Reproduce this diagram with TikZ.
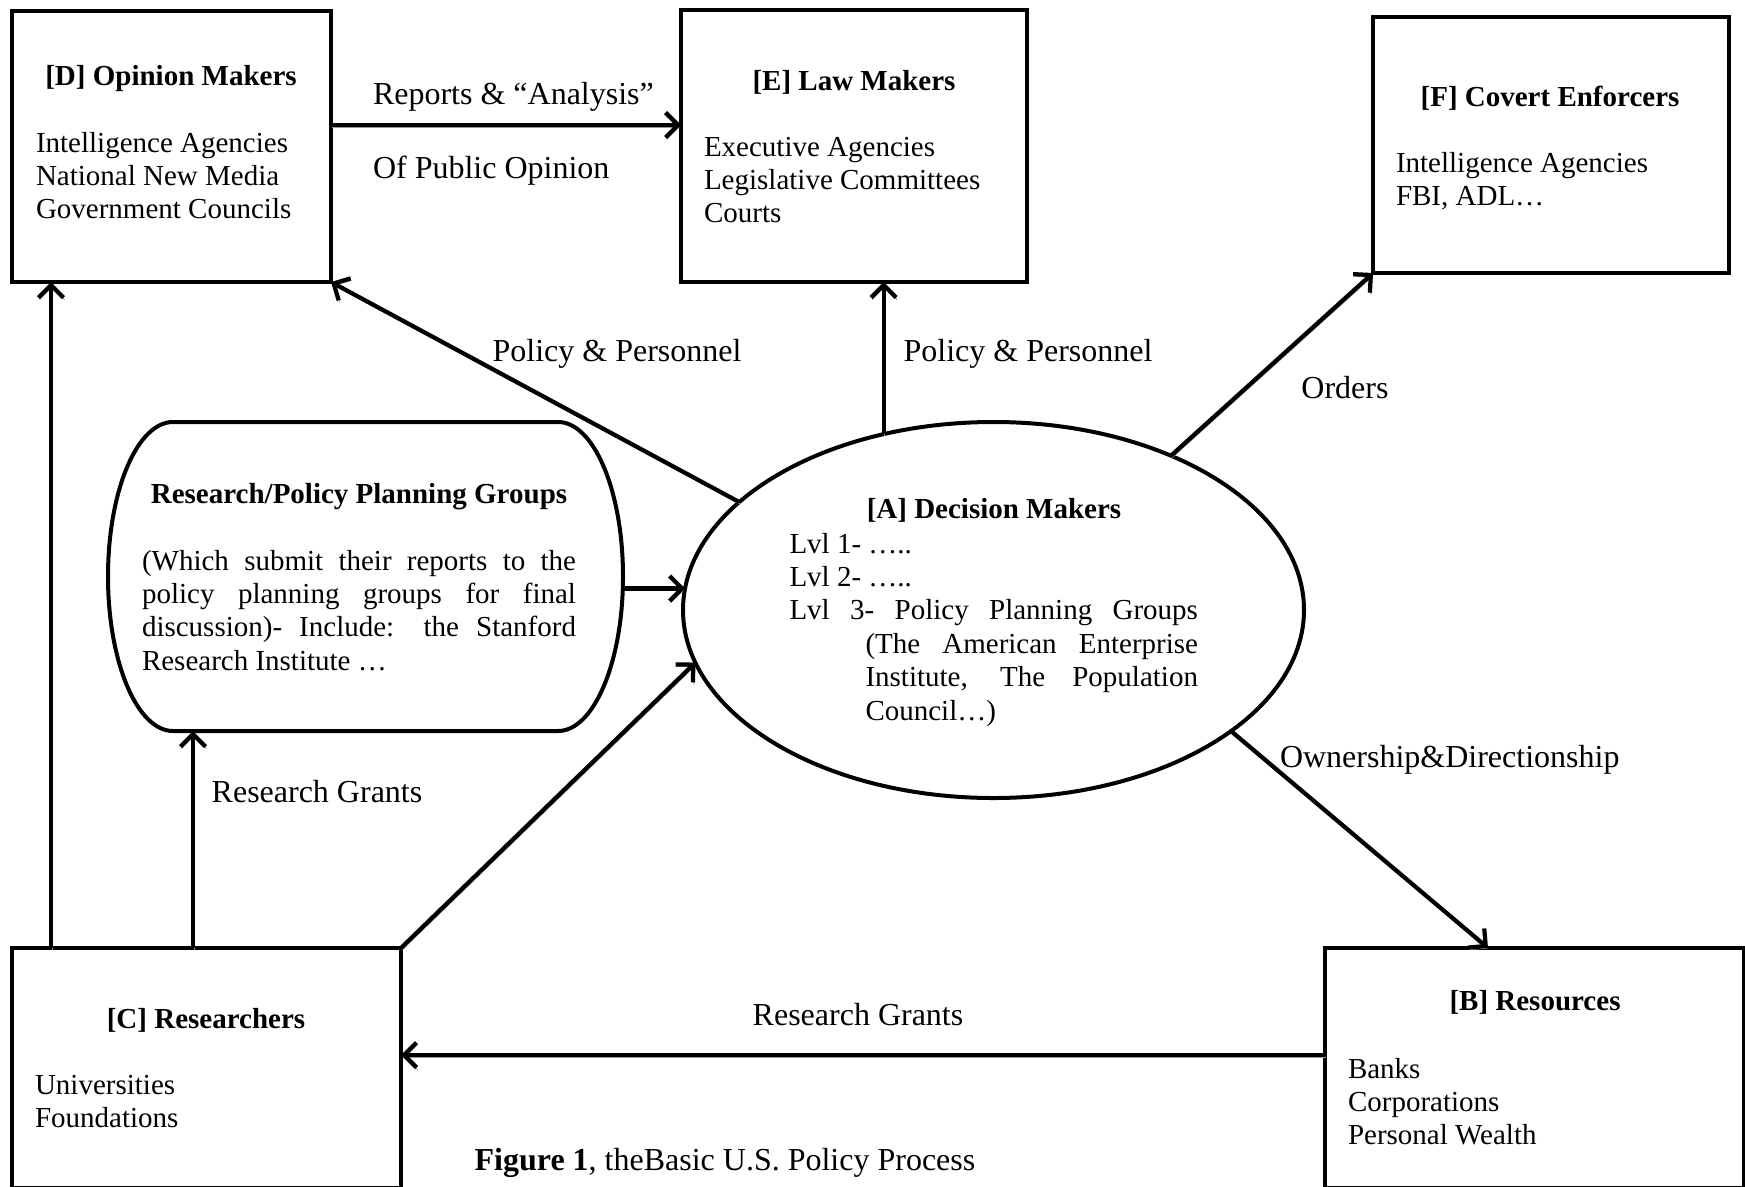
\documentclass[tikz,border=0pt]{standalone}
\usepackage{fontspec}
\setmainfont{Liberation Serif}
\usetikzlibrary{shapes.geometric,arrows.meta}

\begin{document}
\begin{tikzpicture}[x=0.4pt,y=-0.4pt,
  every node/.style={font=\fontsize{11.6}{13.35}\selectfont, inner sep=0pt, outer sep=0pt},
  box/.style 2 args={draw, line width=1.7pt, minimum width=#1*0.4pt, minimum height=#2*0.4pt},
  body/.style={anchor=north west, align=left},
  title/.style={anchor=base, font=\fontsize{11.6}{13.35}\selectfont\bfseries},
  lbl/.style={anchor=base, font=\fontsize{12.8}{14.7}\selectfont},
  arr/.style={->, line width=1.7pt, preaction={draw=black!40, transform canvas={shift={(0.4pt,-0.8pt)}}}},
  >={Straight Barb[length=5pt,width=10pt]}]

  \useasboundingbox (0,0) rectangle (1745,1186);

  % boxes
  \node[box={319}{271}] (D) at (171.5,146.5) {};
  \node[box={346}{272}] (E) at (854,146) {};
  \node[box={356}{256}] (F) at (1551,145) {};
  \node[box={389}{240}] (C) at (206.5,1068) {};
  \node[box={419}{240}] (B) at (1534.5,1068) {};

  \node[draw, ellipse, line width=1.6pt, minimum width=248.4pt, minimum height=150.4pt] (A) at (993.5,610) {};

  \node[minimum width=206pt, minimum height=123.6pt] (RG) at (365.5,576.5) {};
  \draw[line width=1.6pt] (173,422) -- (558,422)
    .. controls (593.9,422) and (623,491.2) .. (623,576.5)
    .. controls (623,661.8) and (593.9,731) .. (558,731) -- (173,731)
    .. controls (137.1,731) and (108,661.8) .. (108,576.5)
    .. controls (108,491.2) and (137.1,422) .. cycle;

  % texts
  \node[title] (Dt) at (171,85) {[D] Opinion Makers};
  \node[body] (Db) at (36,132) {Intelligence Agencies\\National New Media\\Government Councils};

  \node[title] (Et) at (854,90) {[E] Law Makers};
  \node[body] (Eb) at (704,137) {Executive Agencies\\Legislative Committees\\Courts};

  \node[title] (Ft) at (1550,106) {[F] Covert Enforcers};
  \node[body] (Fb) at (1396,152) {Intelligence Agencies\\FBI, ADL…};

  \node[title] (RGt) at (359,503) {Research/Policy Planning Groups};
  \node[anchor=north west, text width=173.6pt, align=justify] (RGb) at (142,550)
    {\parindent=0pt (Which submit their reports to the\linebreak policy planning groups for final\linebreak discussion)- Include: the Stanford\linebreak Research Institute …};

  \node[title] (At) at (994,518) {[A] Decision Makers};
  \node[anchor=north west, text width=163.4pt, align=justify] (Ab) at (789.5,533)
    {\parindent=0pt Lvl 1- …..\par Lvl 2- …..\par Lvl 3- Policy Planning Groups\linebreak
     \hspace*{30.4pt}\parbox[t]{133pt}{(The American Enterprise\linebreak Institute, The Population\linebreak Council…)}};

  \node[title] (Ct) at (206,1028) {[C] Researchers};
  \node[body] (Cb) at (35,1075) {Universities\\Foundations};

  \node[title] (Bt) at (1535,1010) {[B] Resources};
  \node[body] (Bb) at (1348,1058) {Banks\\Corporations\\Personal Wealth};

  % labels
  \node[lbl, anchor=base west] (l1) at (373,104) {Reports \& “Analysis”};
  \node[lbl, anchor=base west] (l2) at (373,178) {Of Public Opinion};
  \node[lbl] (l3) at (617,361) {Policy \& Personnel};
  \node[lbl] (l4) at (1028,361) {Policy \& Personnel};
  \node[lbl] (l5) at (1345,398) {Orders};
  \node[lbl, anchor=base west] (l6) at (1280,767) {Ownership\&Directionship};
  \node[lbl] (l7) at (858,1025) {Research Grants};
  \node[lbl] (l8) at (317,802) {Research Grants};
  \node[lbl] (cap) at (725,1170) {\textbf{Figure 1}, theBasic U.S. Policy Process};

  % connectors
  \coordinate (y1) at (0,125);
  \coordinate (y2) at (0,1055);
  \coordinate (x1) at (51,0);
  \coordinate (x2) at (193,0);
  \coordinate (x3) at (1488,0);

  \draw[arr] (D.east |- y1) -- (E.west |- y1);
  \draw[arr] (A.157.8) -- (D.south east);
  \draw[arr] (A.122.6) -- (A.122.6 |- E.south);
  \draw[arr] (A.41.6) -- (F.south west);
  \draw[arr] (A.-27.9) -- (B.north -| x3);
  \draw[arr] (B.west |- y2) -- (C.east |- y2);
  \draw[arr] (C.north -| x1) -- (D.south -| x1);
  \draw[arr] (C.north -| x2) -- (RG.south -| x2);
  \draw[arr] (C.north east) -- (A.190.3);
  \draw[arr] (RG.east |- A.176.3) -- (A.176.3);

\end{tikzpicture}
\end{document}
